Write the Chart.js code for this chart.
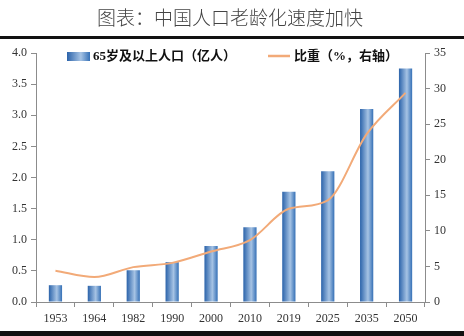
<!DOCTYPE html>
<html>
<head>
<meta charset="utf-8">
<script src="https://cdn.jsdelivr.net/npm/chart.js@4/dist/chart.umd.min.js"></script>
<style>
  html, body { margin: 0; padding: 0; background: #fff; }
  canvas { display: block; }
</style>
</head>
<body>
<canvas id="c" width="464" height="336"></canvas>
<script>
const titleText = '图表：中国人口老龄化速度加快';
const years = ['1953', '1964', '1982', '1990', '2000', '2010', '2019', '2025', '2035', '2050'];
const pop65 = [0.27, 0.26, 0.51, 0.64, 0.90, 1.20, 1.77, 2.10, 3.10, 3.75];   // 亿人
const share = [4.4, 3.5, 4.9, 5.5, 7.1, 8.7, 13.1, 14.3, 23.6, 29.4];         // %
const popLabel = '65岁及以上人口（亿人）';
const shareLabel = '比重（%，右轴）';

const tickFont = { family: "'Liberation Serif', 'Times New Roman', serif", size: 12 };
const axisColor = '#8c8c8c';
const lineColor = '#f2aa78';
const BAR_PCT = 0.34;

function barGradient(ctx, x0, x1) {
  const g = ctx.createLinearGradient(x0, 0, x1, 0);
  g.addColorStop(0, '#2b63aa');
  g.addColorStop(0.6, '#a6c3e4');
  g.addColorStop(1, '#3570b6');
  return g;
}

function barFill(context) {
  const chart = context.chart;
  const xs = chart.scales.x;
  if (!xs || context.dataIndex === undefined) return '#4a7ebb';
  const cx = xs.getPixelForValue(context.dataIndex);
  const w = (xs.width / years.length) * BAR_PCT;
  if (!isFinite(cx) || !isFinite(w) || w <= 0) return '#4a7ebb';
  return barGradient(chart.ctx, cx - w / 2, cx + w / 2);
}

const decor = {
  id: 'decor',
  afterDraw(chart) {
    const ctx = chart.ctx;
    ctx.save();
    // title
    ctx.fillStyle = '#444';
    ctx.font = "300 19px 'Noto Sans CJK SC', sans-serif";
    ctx.textAlign = 'center';
    ctx.textBaseline = 'middle';
    ctx.fillText(titleText, 230, 18);
    // rules
    ctx.fillStyle = '#111';
    ctx.fillRect(0, 36, 464, 3);
    ctx.fillRect(0, 331, 464, 5);
    // legend
    const y = 56;
    ctx.fillStyle = barGradient(ctx, 67, 90);
    ctx.fillRect(67, y - 4, 23, 9);
    ctx.fillStyle = '#111';
    ctx.textAlign = 'left';
    ctx.textBaseline = 'middle';
    ctx.font = "bold 13px 'Liberation Serif', 'Noto Sans CJK SC', serif";
    ctx.fillText(popLabel, 93, y + 1);
    ctx.strokeStyle = lineColor;
    ctx.lineWidth = 2.5;
    ctx.beginPath();
    ctx.moveTo(268, y);
    ctx.lineTo(290, y);
    ctx.stroke();
    ctx.fillText(shareLabel, 294, y + 1);
    ctx.restore();
  }
};

new Chart(document.getElementById('c'), {
  data: {
    labels: years,
    datasets: [
      {
        type: 'line',
        label: shareLabel,
        data: share,
        yAxisID: 'y1',
        borderColor: lineColor,
        borderWidth: 2,
        pointRadius: 0,
        tension: 0.4,
        cubicInterpolationMode: 'monotone',
        order: 0
      },
      {
        type: 'bar',
        label: popLabel,
        data: pop65,
        yAxisID: 'y',
        backgroundColor: barFill,
        borderWidth: 0,
        categoryPercentage: 1,
        barPercentage: BAR_PCT,
        order: 1
      }
    ]
  },
  options: {
    responsive: false,
    animation: false,
    devicePixelRatio: 1,
    layout: { padding: { top: 53, left: 0, right: 0, bottom: 0 } },
    plugins: { legend: { display: false }, tooltip: { enabled: false }, title: { display: false } },
    scales: {
      x: {
        grid: { offset: true, drawOnChartArea: false, tickLength: 5, color: axisColor },
        border: { color: axisColor },
        ticks: { font: tickFont, color: '#333', padding: 5, maxRotation: 0, autoSkip: false },
        afterFit(s) { s.height = 34; }
      },
      y: {
        position: 'left',
        min: 0, max: 4,
        grid: { drawOnChartArea: false, tickLength: 5, color: axisColor },
        border: { color: axisColor },
        ticks: { stepSize: 0.5, font: tickFont, color: '#333', padding: 4, callback: v => v.toFixed(1) },
        afterFit(s) { s.width = 36; }
      },
      y1: {
        position: 'right',
        min: 0, max: 35,
        grid: { drawOnChartArea: false, tickLength: 5, color: axisColor },
        border: { color: axisColor },
        ticks: { stepSize: 5, font: tickFont, color: '#333', padding: 4 },
        afterFit(s) { s.width = 39; }
      }
    }
  },
  plugins: [decor]
});
</script>
</body>
</html>
